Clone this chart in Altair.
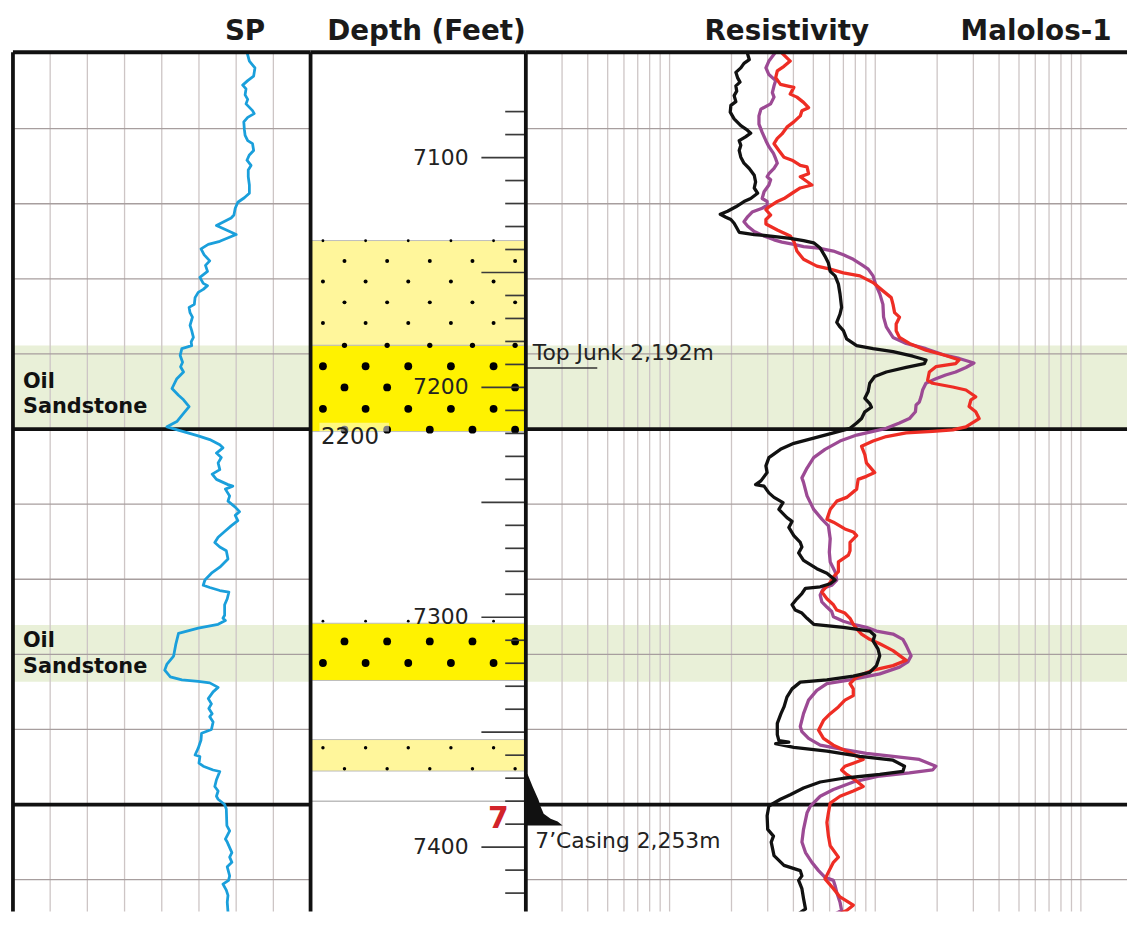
import altair as alt
import pandas as pd

# ---------------- layout ----------------
H = 866
W_SP, W_DEPTH, W_RES = 300, 217, 606
TOP_M, BOT_M = 2149.83, 2264.23      # metres shown (SP / resistivity tracks)
TOP_FT, BOT_FT = 7054.2, 7427.96     # feet shown (depth track)

# ---------------- SP curve (depth m, SP mV) ----------------
sp_depth = [
    2149.8, 2151.0, 2151.9, 2153.0, 2153.6, 2154.2, 2154.7, 2155.5, 2156.1, 2156.7,
    2157.6, 2158.0, 2158.5, 2159.1, 2160.1, 2160.9, 2161.6, 2162.0, 2162.9, 2163.5,
    2164.2, 2164.9, 2165.5, 2166.4, 2167.5, 2168.6, 2169.2, 2169.8, 2170.6, 2171.5,
    2171.9, 2172.9, 2173.7, 2174.1, 2175.0, 2175.4, 2176.0, 2176.8, 2177.6, 2178.2,
    2179.0, 2179.8, 2180.6, 2180.9, 2181.4, 2181.8, 2182.5, 2183.4, 2183.8, 2184.5,
    2185.1, 2186.2, 2186.9,
    2187.8, 2188.4, 2188.9, 2189.3, 2190.2, 2191.1, 2191.7, 2192.4, 2193.3, 2194.6,
    2195.5, 2196.1, 2197.0, 2197.9, 2199.0, 2199.7, 2200.4, 2200.9, 2201.4, 2202.1,
    2202.5, 2203.2, 2203.8, 2204.5, 2205.4, 2206.0, 2206.7, 2207.4, 2207.6, 2208.0,
    2208.9, 2209.6, 2210.4, 2211.0, 2211.5, 2212.2, 2212.9, 2213.7, 2214.4, 2215.1,
    2215.7, 2216.2, 2217.3, 2218.4, 2219.2, 2220.1, 2220.8, 2221.1, 2221.5, 2221.7,
    2222.6, 2223.4, 2224.8, 2225.2, 2225.5,
    2226.0, 2226.5, 2227.2, 2228.6, 2230.2, 2230.4, 2231.3, 2232.1, 2233.0, 2233.4,
    2233.6, 2233.8, 2234.4, 2235.0, 2235.9, 2236.6, 2237.2, 2237.9, 2238.3, 2239.0,
    2240.0, 2240.5, 2241.4, 2242.5, 2243.4, 2243.6, 2244.5, 2244.9, 2245.4, 2245.6,
    2246.7, 2247.6, 2248.2, 2248.9, 2249.3, 2250.0, 2250.6, 2252.8, 2253.5, 2254.6,
    2255.0, 2256.4, 2257.0, 2257.7, 2258.3, 2259.5, 2260.1, 2260.6, 2261.4, 2262.1,
    2263.0, 2264.3, 2265.6,
]
sp_mv = [
    5.8, 7.1, 10.1, 9.4, 6.2, 3.5, 5.3, 4.8, 6.2, 5.3,
    8.8, 9.7, 6.2, 4.1, 4.4, 4.8, 6.2, 8.8, 9.4, 7.1,
    5.8, 8.0, 6.5, 6.5, 7.1, 7.1, 4.4, 0.9, -0.5, -1.2,
    -2.7, -10.6, -3.5, 0.0, -8.8, -15.0, -18.9, -17.2, -14.2, -16.5,
    -15.4, -19.5, -17.7, -15.4, -17.7, -20.4, -22.1, -22.5, -25.3, -24.8,
    -23.5, -24.8, -23.9,
    -23.0, -24.2, -23.9, -29.2, -30.1, -28.8, -29.9, -28.3, -31.9, -34.5,
    -31.0, -28.3, -25.3, -28.3, -31.9, -37.2, -27.4, -20.4, -14.2, -8.8,
    -7.1, -10.6, -8.0, -9.7, -8.8, -12.9, -10.6, -4.4, -1.8, -5.8,
    -3.5, -4.4, -0.5, 1.8, -0.5, 0.9, -2.7, -6.5, -9.7, -11.5,
    -8.8, -5.3, -4.4, -8.8, -13.3, -16.8, -17.7, -14.2, -8.8, -3.9,
    -4.8, -6.2, -6.2, -7.1, -5.8,
    -9.7, -20.4, -31.0, -32.4, -33.6, -34.2, -37.2, -38.4, -35.4, -29.2,
    -20.4, -14.2, -9.7, -12.4, -15.0, -13.3, -14.7, -12.9, -14.2, -12.4,
    -13.3, -18.6, -18.9, -20.4, -22.1, -19.5, -20.0, -17.7, -12.4, -8.8,
    -10.6, -11.5, -9.7, -10.6, -9.7, -6.2, -5.3, -5.0, -3.5, -5.8,
    -4.8, -2.3, -3.5, -2.3, -4.8, -3.5, -4.1, -7.1, -5.3, -4.4,
    -4.8, -4.4, -2.3,
]

# ---------------- resistivity curves (depth m, ohm-m) ----------------
black_depth = [
    2149.8, 2150.8, 2151.3, 2151.9, 2152.5, 2153.2, 2153.8, 2154.3, 2155.0, 2155.6,
    2156.4, 2156.9, 2157.8, 2158.7, 2159.6, 2160.2, 2160.6, 2161.1, 2161.6, 2162.2,
    2162.9, 2163.8, 2164.6, 2165.3, 2166.2, 2167.1, 2167.9, 2168.6, 2169.3, 2169.7,
    2170.4, 2171.0, 2171.4, 2171.8, 2172.1, 2172.6, 2173.2, 2173.8, 2174.1, 2174.3,
    2174.6, 2174.9, 2175.2, 2175.9, 2177.0, 2177.9, 2179.0, 2179.6, 2180.7, 2182.0,
    2183.8, 2184.7, 2185.8, 2186.4,
    2186.9, 2188.0, 2188.9, 2189.3, 2189.7, 2190.3, 2190.8, 2191.3, 2191.8, 2192.4,
    2193.0, 2193.9, 2195.0, 2195.9, 2196.6, 2197.1, 2197.7, 2198.6, 2199.2, 2199.9,
    2200.5, 2201.2, 2201.9, 2202.7, 2203.8, 2204.9, 2205.8, 2206.9, 2207.4, 2207.6,
    2208.5, 2209.1, 2209.8, 2210.7, 2211.8, 2212.3, 2213.1, 2214.2, 2215.1, 2215.7,
    2216.5, 2217.5, 2218.6, 2219.2, 2220.1, 2220.6, 2221.0, 2221.2, 2221.9, 2222.6,
    2223.4, 2224.1, 2224.5, 2225.2,
    2226.0, 2226.4, 2226.9, 2227.5, 2228.2, 2229.3, 2230.2, 2231.5, 2232.4, 2232.9,
    2233.4, 2233.7, 2234.6, 2235.7, 2237.0, 2237.9, 2239.2, 2240.7, 2241.5, 2241.7,
    2241.9, 2242.4, 2242.9, 2243.6, 2244.1, 2244.9, 2245.6, 2246.0, 2246.5, 2247.0,
    2247.8, 2248.7, 2249.3, 2249.8, 2250.2, 2251.5, 2253.3, 2254.2, 2255.0, 2256.8,
    2258.1, 2258.8, 2259.5, 2260.1, 2261.2, 2262.5, 2263.9, 2265.0, 2265.6,
]
black_res = [
    11.9, 12.2, 11.5, 11.1, 10.5, 10.7, 11.0, 10.5, 10.6, 10.3,
    10.5, 9.93, 9.86, 10.3, 11.1, 11.95, 12.4, 11.7, 10.9, 11.1,
    10.9, 11.1, 11.5, 12.2, 12.9, 13.1, 12.9, 13.4, 12.4, 11.5,
    10.5, 9.57, 8.82, 9.39, 9.93, 10.3, 10.6, 10.9, 12.9, 15.5,
    19.3, 22.4, 25.1, 27.0, 28.5, 29.6, 30.2, 31.9, 33.1, 33.7,
    34.3, 33.7, 32.5, 33.7,
    35.0, 36.3, 40.6, 48.8, 61.0, 76.1, 88.3, 86.6, 70.7, 56.6,
    49.7, 47.0, 46.2, 44.5, 47.0, 47.9, 44.5, 42.9, 40.6, 37.7,
    31.3, 25.1, 20.1, 17.3, 15.2, 14.7, 14.9, 13.9, 13.1, 14.4,
    15.2, 16.1, 17.8, 17.0, 18.6, 19.7, 19.0, 20.1, 21.6, 22.0,
    21.2, 22.4, 26.0, 29.1, 31.9, 30.2, 27.0, 22.9, 22.0, 20.8,
    19.7, 20.4, 22.0, 23.3,
    25.1, 35.0, 47.0, 49.7, 48.8, 51.6, 52.6, 50.7, 47.0, 39.1,
    29.1, 21.6, 19.7, 18.6, 18.0, 17.4, 16.7, 16.7, 17.0, 19.0,
    16.4, 20.1, 29.1, 42.1, 61.0, 69.4, 68.1, 52.6, 35.0, 27.0,
    22.4, 19.3, 17.3, 16.1, 15.2, 14.9, 15.0, 16.0, 15.6, 16.1,
    18.0, 21.6, 22.0, 21.2, 22.0, 22.4, 22.9, 20.1, 18.0,
]

purple_depth = [
    2149.8, 2151.0, 2151.9, 2152.8, 2153.6, 2154.3, 2155.2, 2155.8, 2156.7, 2157.4,
    2158.3, 2159.4, 2160.5, 2161.6, 2162.4, 2163.3, 2164.0, 2164.6, 2165.3, 2166.0,
    2166.4, 2166.8, 2167.5, 2168.4, 2169.3, 2169.7, 2170.2, 2170.6, 2171.1, 2171.7,
    2172.4, 2173.0, 2173.7, 2174.2, 2174.8, 2175.1, 2175.4, 2175.7, 2175.9, 2176.3,
    2176.8, 2177.4, 2178.1, 2178.7, 2179.6, 2180.7, 2182.0, 2183.4, 2185.1, 2186.4,
    2187.8, 2188.6, 2189.3, 2190.2, 2190.6, 2191.2, 2191.8, 2192.4, 2192.8, 2193.3,
    2193.9, 2194.8, 2195.7, 2196.4, 2196.8, 2197.7, 2198.6, 2199.2, 2199.9, 2200.3,
    2200.8, 2201.6, 2202.7, 2203.8, 2205.2, 2206.5, 2207.1, 2208.9, 2210.7, 2212.0,
    2212.9, 2214.6, 2216.4, 2217.7, 2219.0, 2220.1, 2220.8, 2221.2, 2222.1, 2223.0,
    2223.7, 2224.3, 2225.0, 2225.6,
    2226.0, 2226.4, 2226.9, 2227.3, 2228.0, 2228.8, 2230.2, 2231.0, 2231.7, 2232.6,
    2233.4, 2233.9, 2234.8, 2236.1, 2237.9, 2239.6, 2240.3, 2241.2, 2242.1, 2242.6,
    2243.2, 2243.6, 2244.0, 2244.9, 2245.4, 2245.8, 2246.2, 2247.0, 2248.0, 2248.9,
    2250.2, 2251.1, 2253.3, 2255.0, 2256.4, 2257.7, 2258.8, 2259.7, 2260.1, 2260.8,
    2261.7, 2263.0, 2264.1, 2264.7, 2265.4,
]
purple_res = [
    16.4, 15.2, 14.7, 15.2, 16.4, 16.1, 15.8, 16.1, 15.5, 13.9,
    13.6, 13.6, 14.1, 14.7, 15.2, 16.0, 16.4, 16.7, 16.1, 15.2,
    14.9, 15.5, 15.2, 14.4, 14.1, 14.9, 14.9, 14.1, 12.6, 12.0,
    11.5, 12.0, 12.9, 14.1, 16.1, 17.6, 20.1, 22.4, 26.5, 31.3,
    35.0, 39.1, 42.9, 46.2, 48.8, 50.2, 52.6, 54.5, 54.9, 56.6,
    61.0, 70.7, 88.2, 110.0, 128.0, 151.0, 138.0, 123.0, 110.0, 98.6,
    88.2, 85.0, 83.5, 81.9, 79.0, 78.4, 73.3, 65.6, 56.6, 48.8,
    40.6, 33.7, 28.5, 25.1, 23.3, 22.0, 22.4, 23.3, 25.1, 27.5,
    29.6, 30.2, 29.9, 30.2, 31.9, 32.5, 30.7, 28.0, 27.0, 27.5,
    29.1, 30.7, 31.3, 35.0,
    39.1, 45.3, 50.7, 61.0, 68.1, 70.7, 74.7, 72.0, 65.6, 52.6,
    37.7, 29.1, 26.0, 23.7, 22.4, 21.6, 22.0, 23.7, 27.0, 33.7,
    45.3, 61.0, 81.9, 98.6, 95.0, 73.3, 52.6, 39.1, 31.3, 27.0,
    24.2, 23.3, 22.4, 22.0, 22.9, 24.6, 26.5, 28.5, 31.3, 31.9,
    32.5, 33.7, 34.3, 31.3, 29.1,
]

red_depth = [
    2149.8, 2151.0, 2151.7, 2152.3, 2153.2, 2154.1, 2154.3, 2154.5, 2155.4, 2155.8,
    2156.5, 2157.2, 2157.6, 2158.3, 2159.1, 2159.8, 2160.7, 2161.3, 2162.0, 2162.9,
    2163.8, 2164.2, 2164.9, 2165.1, 2166.0, 2166.4, 2167.5, 2167.9, 2168.6, 2169.3,
    2169.7, 2170.4, 2170.8, 2171.5, 2172.1, 2172.7, 2173.5, 2174.3, 2175.0, 2176.3,
    2177.4, 2178.3, 2178.7, 2179.2, 2179.6, 2180.5, 2181.6, 2182.5, 2183.4, 2184.5,
    2185.1, 2186.0,
    2186.9, 2187.8, 2188.6, 2189.5, 2190.2, 2190.8, 2191.3, 2191.7, 2192.4, 2193.5,
    2193.9, 2194.4, 2194.8, 2195.7, 2196.1, 2197.0, 2197.7, 2198.6, 2199.7, 2200.1,
    2200.3, 2200.5, 2201.0, 2201.6, 2202.3, 2203.4, 2204.5, 2205.8, 2206.3, 2206.7,
    2208.0, 2209.1, 2209.6, 2210.7, 2212.0, 2212.4, 2213.3, 2213.7, 2214.2, 2215.1,
    2216.2, 2216.8, 2217.7, 2219.0, 2219.7, 2220.4, 2221.2, 2221.7, 2222.6, 2223.4,
    2224.1, 2224.5, 2225.2,
    2226.0, 2226.6, 2227.3, 2228.0, 2228.6, 2229.5, 2230.8, 2231.5, 2232.1, 2233.0,
    2233.9, 2234.6, 2235.5, 2236.1, 2237.0, 2237.9, 2238.8, 2240.1, 2241.2, 2242.1,
    2242.9, 2243.4, 2244.0, 2244.5, 2244.9, 2245.4, 2246.0, 2246.7, 2247.6, 2248.2,
    2248.9, 2249.8, 2251.1, 2252.4, 2254.2, 2255.5, 2257.0, 2257.7, 2259.9, 2261.2,
    2262.3, 2263.4, 2264.1, 2264.7, 2265.4,
]
red_res = [
    17.4, 19.3, 18.0, 16.7, 16.4, 17.3, 18.6, 20.1, 19.3, 20.8,
    22.4, 23.7, 22.0, 21.6, 20.1, 18.6, 17.6, 16.7, 16.1, 17.0,
    18.0, 19.7, 21.6, 23.3, 23.7, 21.6, 24.6, 21.6, 19.7, 18.0,
    16.7, 15.2, 14.7, 15.5, 14.7, 14.7, 16.7, 19.3, 20.1, 20.8,
    22.4, 26.0, 30.2, 35.0, 42.1, 48.8, 54.5, 59.8, 61.0, 62.1,
    65.6, 63.2,
    63.2, 65.6, 73.3, 88.2, 110.0, 128.0, 123.0, 98.6, 91.6, 89.9,
    95.0, 119.0, 138.0, 154.0, 146.0, 143.0, 154.0, 160.0, 138.0, 119.0,
    95.0, 70.7, 56.6, 48.8, 42.9, 44.5, 45.3, 49.7, 45.3, 41.3,
    40.6, 36.3, 32.5, 30.2, 29.1, 31.3, 35.6, 39.1, 40.6, 37.7,
    37.7, 37.0, 33.1, 33.1, 31.3, 30.2, 28.5, 27.5, 29.1, 31.3,
    32.5, 35.6, 37.7,
    39.1, 40.6, 42.9, 47.0, 52.6, 61.0, 70.7, 61.0, 48.8, 40.6,
    37.7, 39.1, 39.1, 35.6, 33.1, 30.2, 28.0, 26.5, 28.0, 31.3,
    36.3, 39.8, 43.7, 39.1, 35.6, 34.3, 36.3, 39.8, 43.7, 39.1,
    33.7, 30.2, 29.6, 29.1, 29.6, 30.2, 33.1, 31.3, 28.5, 31.3,
    33.7, 39.1, 36.3, 32.5, 29.1,
]

# ---------------- zones, grids, annotations ----------------
oil_top_m = [2188.86, 2226.08]
oil_base_m = [2200.0, 2233.65]
oil_label_m = [2194.5, 2197.8, 2229.0, 2232.55]
oil_label_text = ["Oil", "Sandstone", "Oil", "Sandstone"]

grid_m = [2160, 2170, 2180, 2190, 2210, 2220, 2230, 2240, 2260]
thick_m = [2200, 2250]
sp_grid_mv = [-100, -80, -60, -40, -20, 0, 20]
res_grid = [1.5, 2, 2.5, 3, 3.5, 4, 4.5, 5,
            10, 15, 20, 25, 30, 35, 40, 45, 50,
            100, 150, 200, 250, 300, 350, 400, 450, 500]

bed_top_ft = [7136.1, 7181.7, 7302.6, 7353.2]
bed_base_ft = [7181.7, 7219.2, 7327.5, 7366.9]
bed_kind = ["fine", "oil", "oil", "fine"]

dot_rows_ft = [7136.2, 7145.0, 7153.9, 7163.0, 7172.0,
               7181.7, 7190.8, 7200.0, 7209.3, 7218.4,
               7301.7, 7310.5, 7319.9, 7356.8, 7365.9]
dot_row_parity = ["even", "odd", "even", "odd", "even",
                  "odd", "even", "odd", "even", "odd",
                  "even", "odd", "even", "even", "odd"]
dot_row_grain = ["tiny", "small", "small", "small", "small",
                 "medium", "large", "large", "large", "large",
                 "tiny", "large", "large", "fine", "fine"]
odd_cols = [1.59, 3.59, 5.59, 7.59, 9.59]
even_cols = [0.58, 2.58, 4.58, 6.58, 8.58]
dot_gaps = {(7200.0, 5.59), (7200.0, 7.59), (7301.7, 6.58)}

major_ticks_ft = [7100, 7150, 7200, 7250, 7300, 7350, 7400]
minor_ticks_ft = [7080, 7090, 7110, 7120, 7130, 7140, 7160, 7170, 7180, 7190,
                  7210, 7220, 7230, 7240, 7260, 7270, 7280, 7290, 7310, 7320,
                  7330, 7340, 7360, 7370, 7380, 7390, 7410, 7420]
depth_label_ft = [7100, 7200, 7300, 7400]
depth_label_text = ["7100", "7200", "7300", "7400"]

metre_label_ft = 7221.4
metre_label_text = "2200"
metre_box_ft = [7215.4, 7219.2]
shoe_line_ft = 7380
casing_size_ft = 7387.8

top_junk_m = 2191.86
top_junk_text_m = 2190.85
casing_text_m = 2255.8
casing_depth_m = [2245.93, 2247.65, 2249.37, 2250.29, 2251.22, 2251.88, 2252.27, 2252.80]
casing_res = [1.019, 1.081, 1.152, 1.181, 1.221, 1.320, 1.427, 1.509]

# ---------------- styles ----------------
FONT = "DejaVu Sans"
GREEN = "#E9F0D8"
BRIGHT = "#FFF200"
LIGHT = "#FFF69B"
HGRID = "#A79E9E"
VGRID = "#CDC5C5"
INK = "#111111"
TICK = "#3A3A3A"
DOT_SIZE = {"tiny": 8, "fine": 12, "small": 16, "medium": 28, "large": 62}

ysc_m = alt.Scale(domain=[TOP_M, BOT_M], reverse=True, nice=False, zero=False)
ysc_ft = alt.Scale(domain=[TOP_FT, BOT_FT], reverse=True, nice=False, zero=False)
xsc_sp = alt.Scale(domain=[-120, 40], nice=False, zero=False)
xsc_res = alt.Scale(type="log", domain=[1, 838], nice=False)
xsc_lith = alt.Scale(domain=[0, 10.093], nice=False, zero=False)

one = pd.DataFrame({"k": [0]})


def ym(field="d"):
    return alt.Y(f"{field}:Q", scale=ysc_m, axis=None)


def yft(field="d"):
    return alt.Y(f"{field}:Q", scale=ysc_ft, axis=None)


def hrules(values, W, color, width):
    return alt.Chart(pd.DataFrame({"d": values})).mark_rule(
        color=color, strokeWidth=width).encode(y=ym(), x=alt.value(0), x2=alt.value(W))


def bands(W):
    return alt.Chart(pd.DataFrame({"top": oil_top_m, "base": oil_base_m})).mark_rect(
        color=GREEN).encode(y=ym("top"), y2="base:Q", x=alt.value(0), x2=alt.value(W))


def frame(W):
    top = alt.Chart(one).mark_rule(color=INK, strokeWidth=4).encode(
        x=alt.value(0), x2=alt.value(W), y=alt.value(0))
    left = alt.Chart(one).mark_rule(color=INK, strokeWidth=3.8).encode(
        x=alt.value(0), y=alt.value(0), y2=alt.value(H))
    return [top, left]


def title(text, x, align):
    return alt.Chart(one).mark_text(
        text=text, font=FONT, fontSize=28, fontWeight="bold", align=align,
        baseline="alphabetic", color="#1A1A1A").encode(x=alt.value(x), y=alt.value(-12))


# ---------------- SP track ----------------
sp_vgrid = alt.Chart(pd.DataFrame({"v": sp_grid_mv})).mark_rule(
    color=VGRID, strokeWidth=1.3).encode(
    x=alt.X("v:Q", scale=xsc_sp, axis=None), y=alt.value(0), y2=alt.value(H))
sp_curve = alt.Chart(pd.DataFrame({"d": sp_depth, "v": sp_mv})).mark_line(
    color="#1A9FDB", strokeWidth=2.8, clip=True, strokeJoin="round").encode(
    x=alt.X("v:Q", scale=xsc_sp, axis=None), y=ym(), order=alt.Order("d:Q"))
sp_labels = alt.Chart(pd.DataFrame({"d": oil_label_m, "t": oil_label_text})).mark_text(
    font=FONT, fontSize=21, fontWeight="bold", align="left", baseline="alphabetic",
    color=INK).encode(x=alt.value(10), y=ym(), text="t:N")
anchor = alt.Chart(one).mark_rule(strokeOpacity=0, strokeWidth=1).encode(
    x=alt.value(0), x2=alt.value(20), y=alt.value(-41))

sp_panel = alt.layer(
    bands(W_SP), sp_vgrid, hrules(grid_m, W_SP, HGRID, 1.3),
    hrules(thick_m, W_SP, INK, 3.8), sp_curve, sp_labels,
    *frame(W_SP), title("SP", 254.3, "right"), anchor,
).properties(width=W_SP, height=H)

# ---------------- depth / lithology track ----------------
beds = alt.Chart(pd.DataFrame({"top": bed_top_ft, "base": bed_base_ft, "kind": bed_kind})).mark_rect(
    stroke="#BDBDBD", strokeWidth=1).encode(
    y=yft("top"), y2="base:Q", x=alt.value(0), x2=alt.value(W_DEPTH),
    color=alt.Color("kind:N", scale=alt.Scale(domain=["fine", "oil"], range=[LIGHT, BRIGHT]),
                    legend=None))

dot_records = []
for d, par, grain in zip(dot_rows_ft, dot_row_parity, dot_row_grain):
    for c in (odd_cols if par == "odd" else even_cols):
        if (d, c) in dot_gaps:
            continue
        dot_records.append({"d": d, "c": c, "g": grain})
dot_df = pd.DataFrame(dot_records)
dot_layers = []
for grain, size in DOT_SIZE.items():
    sub = dot_df[dot_df["g"] == grain]
    if len(sub):
        dot_layers.append(alt.Chart(sub).mark_circle(color="black", opacity=1, size=size).encode(
            x=alt.X("c:Q", scale=xsc_lith, axis=None), y=yft()))

metre_box = alt.Chart(pd.DataFrame({"a": [metre_box_ft[0]], "b": [metre_box_ft[1]]})).mark_rect(
    color="white", opacity=0.5).encode(y=yft("a"), y2="b:Q", x=alt.value(9), x2=alt.value(79))
shoe_line = alt.Chart(pd.DataFrame({"d": [shoe_line_ft]})).mark_rule(
    color="#9A9A9A", strokeWidth=1).encode(y=yft(), x=alt.value(0), x2=alt.value(W_DEPTH))
minor_ticks = alt.Chart(pd.DataFrame({"d": minor_ticks_ft})).mark_rule(
    color=TICK, strokeWidth=1.7).encode(y=yft(), x=alt.value(196.2), x2=alt.value(W_DEPTH))
major_ticks = alt.Chart(pd.DataFrame({"d": major_ticks_ft})).mark_rule(
    color=TICK, strokeWidth=1.7).encode(y=yft(), x=alt.value(172.2), x2=alt.value(W_DEPTH))
depth_labels = alt.Chart(pd.DataFrame({"d": depth_label_ft, "t": depth_label_text})).mark_text(
    font=FONT, fontSize=22, align="right", baseline="middle", color="#222222").encode(
    x=alt.value(159.3), y=yft(), text="t:N")
metre_label = alt.Chart(pd.DataFrame({"d": [metre_label_ft], "t": [metre_label_text]})).mark_text(
    font=FONT, fontSize=23, align="left", baseline="middle", color="#222222").encode(
    x=alt.value(10.5), y=yft(), text="t:N")
casing_size = alt.Chart(pd.DataFrame({"d": [casing_size_ft], "t": ["7"]})).mark_text(
    font=FONT, fontSize=30, fontWeight="bold", align="center", baseline="middle",
    color="#D2232A").encode(x=alt.value(189.3), y=yft(), text="t:N")

depth_panel = alt.layer(
    beds, *dot_layers, metre_box, shoe_line, minor_ticks, major_ticks, depth_labels,
    metre_label, casing_size, *frame(W_DEPTH), title("Depth (Feet)", 116.8, "center"),
).properties(width=W_DEPTH, height=H)

# ---------------- resistivity track ----------------
res_vgrid = alt.Chart(pd.DataFrame({"r": res_grid})).mark_rule(
    color=VGRID, strokeWidth=1.3).encode(
    x=alt.X("r:Q", scale=xsc_res, axis=None), y=alt.value(0), y2=alt.value(H))


def res_curve(depths, vals, color):
    return alt.Chart(pd.DataFrame({"d": depths, "r": vals})).mark_line(
        color=color, strokeWidth=3.3, clip=True, strokeJoin="round").encode(
        x=alt.X("r:Q", scale=xsc_res, axis=None), y=ym(), order=alt.Order("d:Q"))


casing = alt.Chart(pd.DataFrame({"d": casing_depth_m, "r": casing_res,
                                 "b": [1.0] * len(casing_res)})).mark_area(
    orient="horizontal", color=INK, opacity=1).encode(
    y=ym(), x=alt.X("r:Q", scale=xsc_res, axis=None, stack=None), x2="b:Q")
junk_line = alt.Chart(pd.DataFrame({"d": [top_junk_m]})).mark_rule(
    color="#333333", strokeWidth=1.5).encode(y=ym(), x=alt.value(0), x2=alt.value(72))
junk_text = alt.Chart(pd.DataFrame({"d": [top_junk_text_m], "t": ["Top Junk 2,192m"]})).mark_text(
    font=FONT, fontSize=22, align="left", baseline="alphabetic", color="#222222").encode(
    x=alt.value(7), y=ym(), text="t:N")
casing_text = alt.Chart(pd.DataFrame({"d": [casing_text_m], "t": ["7\u2019Casing 2,253m"]})).mark_text(
    font=FONT, fontSize=22, align="left", baseline="alphabetic", color="#222222").encode(
    x=alt.value(9.5), y=ym(), text="t:N")

res_panel = alt.layer(
    bands(W_RES), res_vgrid, hrules(grid_m, W_RES, HGRID, 1.3), hrules(thick_m, W_RES, INK, 3.8),
    res_curve(purple_depth, purple_res, "#9C4A94"),
    res_curve(red_depth, red_res, "#EE2D24"),
    res_curve(black_depth, black_res, "#111111"),
    casing, junk_line, junk_text, casing_text,
    *frame(W_RES), title("Resistivity", 263, "center"), title("Malolos-1", 514.3, "center"),
).properties(width=W_RES, height=H)

chart = alt.hconcat(
    sp_panel, depth_panel, res_panel, spacing=0, bounds="flush"
).resolve_scale(x="independent", y="independent").properties(
    padding={"left": 3, "top": 0, "right": 0, "bottom": 0}
).configure_view(strokeWidth=0)

chart.save("out.html", embed_options={"renderer": "svg", "actions": False})
